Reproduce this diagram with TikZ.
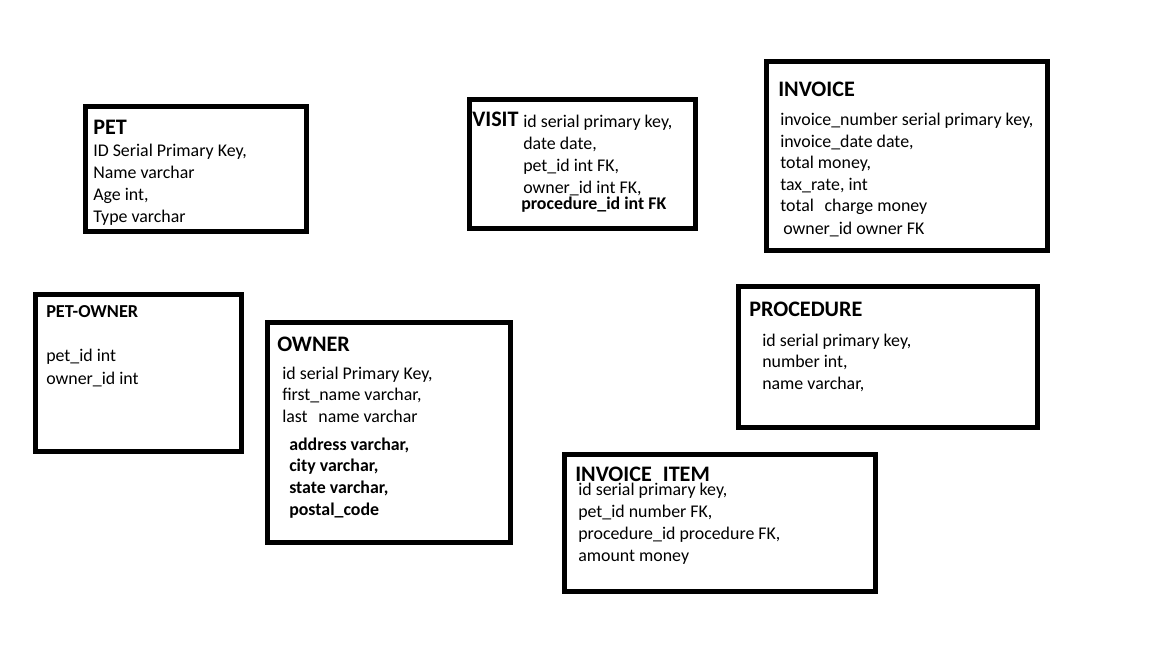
\documentclass[tikz,border=0pt]{standalone}
\usepackage{fontspec}
\setmainfont{Carlito}
\usepackage{tikz}

\begin{document}
\begin{tikzpicture}[x=0.75pt,y=-0.75pt,
        entity/.style={draw,line width=3.75pt},
        title/.style={anchor=base west,font=\bfseries\fontsize{16.6}{19}\selectfont},
        smalltitle/.style={anchor=base west,font=\bfseries\fontsize{13.7}{16}\selectfont},
        field/.style={anchor=base west,inner sep=0pt,font=\fontsize{13.4}{16}\selectfont},
        keyfield/.style={field,font=\bfseries\fontsize{13.4}{16}\selectfont}]
    \useasboundingbox (0,0) rectangle (1152,648);

    % PET
    \draw[entity] (85,107) rectangle (306,232);
    \node (pettitle) [title,inner sep=0pt] at (93,135) {PET};
    \foreach \t [count=\i] in {{ID Serial Primary Key,},{Name varchar},{Age int,},{Type varchar}}
        \node (pet-\i) [field] at (93,{135+21.8*\i}) {\t};

    % VISIT
    \draw[entity] (469,100) rectangle (695,229);
    \node (visittitle) [title,inner sep=0pt] at (472,127) {VISIT};
    \foreach \t [count=\i] in {{id serial primary key,},{date date,},{pet\_id int FK,},{owner\_id int FK,}}
        \node (visit-\i) [field] at (523,{128+21.7*(\i-1)}) {\t};
    \node (visit-5) [keyfield] at (521,210) {procedure\_id int FK};

    % INVOICE
    \draw[entity] (766,62) rectangle (1047,251);
    \node (invtitle) [title,inner sep=0pt] at (778,97) {INVOICE};
    \foreach \t [count=\i] in {{invoice\_number serial primary key,},{invoice\_date date,},{total money,},{tax\_rate, int},{total\hspace{0.6em}charge money}}
        \node (inv-\i) [field] at (780,{126+21.5*(\i-1)}) {\t};
    \node (inv-6) [field] at (783,235) {owner\_id owner FK};

    % PET-OWNER
    \draw[entity] (35,295) rectangle (241,451);
    \node (potitle) [smalltitle,inner sep=0pt] at (46,318) {PET-OWNER};
    \node (po-1) [field] at (46,362) {pet\_id int};
    \node (po-2) [field] at (46,384) {owner\_id int};

    % OWNER
    \draw[entity] (267,323) rectangle (510,542);
    \node (ownertitle) [title,inner sep=0pt] at (277,351) {OWNER};
    \foreach \t [count=\i] in {{id serial Primary Key,},{first\_name varchar,},{last\hspace{0.6em}name varchar}}
        \node (owner-\i) [field] at (282,{379+21.5*(\i-1)}) {\t};
    \foreach \t [count=\i] in {{address varchar,},{city varchar,},{state varchar,},{postal\_code}}
        \node (addr-\i) [keyfield] at (289,{450+21.7*(\i-1)}) {\t};

    % PROCEDURE
    \draw[entity] (738,287) rectangle (1037,427);
    \node (proctitle) [title,inner sep=0pt] at (749,317) {PROCEDURE};
    \foreach \t [count=\i] in {{id serial primary key,},{number int,},{name varchar,}}
        \node (proc-\i) [field] at (762,{346+21.5*(\i-1)}) {\t};

    % INVOICE_ITEM
    \draw[entity] (564,454) rectangle (875,591);
    \node (itemtitle) [title,inner sep=0pt] at (575,481) {INVOICE\hspace{0.5em}ITEM};
    \foreach \t [count=\i] in {{id serial primary key,},{pet\_id number FK,},{procedure\_id procedure FK,},{amount money}}
        \node (item-\i) [field] at (578,{495+22*(\i-1)}) {\t};
\end{tikzpicture}
\end{document}
